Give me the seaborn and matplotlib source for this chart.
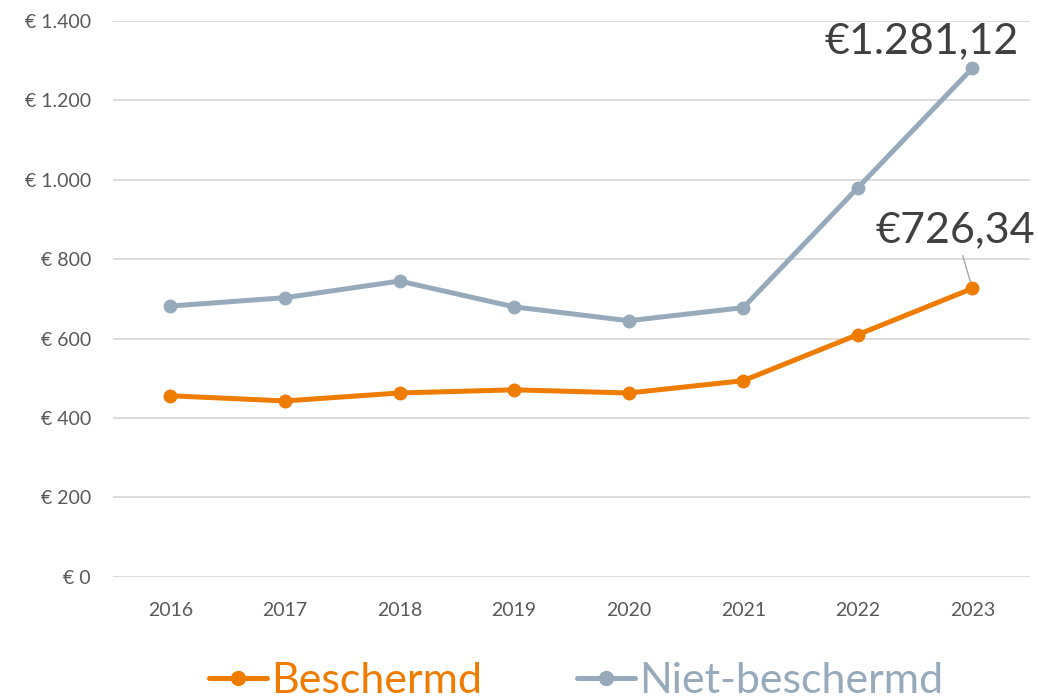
import matplotlib
matplotlib.use("Agg")
import matplotlib.pyplot as plt
import seaborn as sns
import pandas as pd
from matplotlib.lines import Line2D

# data
jaren = [2016, 2017, 2018, 2019, 2020, 2021, 2022, 2023]
beschermd = [456, 443, 463, 471, 463, 494, 610, 726.34]
niet_beschermd = [682, 703, 745, 680, 645, 678, 980, 1281.12]
y_ticks = [0, 200, 400, 600, 800, 1000, 1200, 1400]

ORANJE = "#EE7C00"
GRIJS = "#97AABB"

sns.set_theme(style="white")
plt.rcParams['font.family'] = ['Lato', 'DejaVu Sans']

df = pd.DataFrame({
    "jaar": jaren * 2,
    "waarde": beschermd + niet_beschermd,
    "serie": ["Beschermd"] * len(jaren) + ["Niet-beschermd"] * len(jaren),
})

fig = plt.figure(figsize=(10.38, 7), dpi=100)
ax = fig.add_axes([0.109, 0.176, 0.883, 0.794])

sns.lineplot(data=df, x="jaar", y="waarde", hue="serie",
             palette={"Beschermd": ORANJE, "Niet-beschermd": GRIJS},
             marker="o", markersize=10, markeredgewidth=0, linewidth=3.6,
             ax=ax, legend=False)

ax.set_xlim(jaren[0] - 0.5, jaren[-1] + 0.5)
ax.set_ylim(0, 1400)
ax.set_yticks(y_ticks)
ax.set_yticklabels([("€ {:,}".format(v)).replace(",", ".") for v in y_ticks])
ax.set_xticks(jaren)
ax.set_xticklabels([str(j) for j in jaren])
ax.tick_params(axis="both", labelsize=14, colors="#595959", length=0)
ax.tick_params(axis="x", pad=18)
ax.tick_params(axis="y", pad=16)
ax.set_xlabel("")
ax.set_ylabel("")
ax.yaxis.grid(True, color="#D9D9D9", linewidth=1.3)
ax.set_axisbelow(True)
for s in ax.spines.values():
    s.set_visible(False)

# data labels
ax.annotate("€1.281,12", xy=(jaren[-1], niet_beschermd[-1]),
            xytext=(jaren[-1] - 0.445, 1348), ha="center", va="center",
            fontsize=31, color="#404040")
ax.annotate("€726,34", xy=(jaren[-1], beschermd[-1]),
            xytext=(jaren[-1] - 0.15, 872), ha="center", va="center",
            fontsize=31, color="#404040",
            arrowprops=dict(arrowstyle="-", color="#A6A6A6", lw=1,
                            shrinkA=2, shrinkB=5))

# legend
handles = [Line2D([], [], color=ORANJE, lw=3.6, marker="o", markersize=10),
           Line2D([], [], color=GRIJS, lw=3.6, marker="o", markersize=10)]
leg = fig.legend(handles, ["Beschermd", "Niet-beschermd"], loc="lower center",
                 bbox_to_anchor=(0.555, -0.055), ncol=2, frameon=False,
                 fontsize=31, handlelength=1.35, handletextpad=0.1,
                 columnspacing=2.2)
for txt, c in zip(leg.get_texts(), [ORANJE, GRIJS]):
    txt.set_color(c)

fig.savefig("out.png", dpi=100)
